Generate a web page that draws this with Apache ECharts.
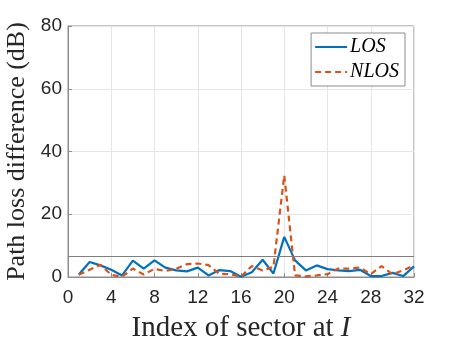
<!DOCTYPE html>
<html>
<head>
<meta charset="utf-8">
<script src="https://cdn.jsdelivr.net/npm/echarts@6/dist/echarts.min.js"></script>
<style>
  html, body { margin: 0; padding: 0; background: #fff; }
  #chart { width: 457px; height: 345px; }
</style>
</head>
<body>
<div id="chart"></div>
<script>
  // sector index 1..32
  var sectors = [];
  for (var i = 1; i <= 32; i++) sectors.push(i);

  var losValues = [0.8, 4.8, 3.7, 2.3, 0.5, 5.2, 2.7, 5.3, 3.0, 2.1,
                   1.8, 3.0, 0.5, 2.2, 1.9, 0.1, 1.5, 5.5, 1.1, 12.8,
                   5.3, 2.1, 3.7, 2.5, 2.1, 1.9, 2.3, 0.3, 0.3, 1.3,
                   0.3, 3.4];
  var nlosValues = [0.7, 2.3, 3.9, 0.7, 0.1, 2.7, 0.8, 2.6, 1.9, 2.6,
                    4.1, 4.3, 3.8, 1.0, 0.9, 0.1, 3.5, 2.1, 3.2, 32.4,
                    0.5, 0.2, 0.5, 0.9, 2.7, 2.7, 3.0, 0.9, 3.5, 0.9,
                    2.1, 3.7];
  var refLine = 6.5;

  var xTicks = [0, 4, 8, 12, 16, 20, 24, 28, 32];
  var yTicks = [0, 20, 40, 60, 80];

  function pairs(vals) {
    var out = [];
    for (var i = 0; i < vals.length; i++) out.push([sectors[i], vals[i]]);
    return out;
  }

  var serif = '"Liberation Serif", "DejaVu Serif", serif';
  var sans = '"Liberation Sans", Arial, sans-serif';

  var option = {
    animation: false,
    backgroundColor: '#fff',
    grid: {
      left: 68, right: 43, top: 26, bottom: 68,
      outerBoundsMode: 'none',
      containLabel: false,
      show: true, borderColor: '#8c8c8c', borderWidth: 1
    },
    legend: {
      right: 52, top: 33,
      orient: 'vertical',
      itemWidth: 32, itemHeight: 14, itemGap: 5,
      padding: [4, 6, 4, 3],
      backgroundColor: '#fff',
      borderColor: '#8c8c8c', borderWidth: 1,
      itemStyle: { opacity: 0 },
      textStyle: { fontFamily: serif, fontStyle: 'italic', fontSize: 20, color: '#000', padding: [0, 0, 0, -2] },
      data: ['LOS', 'NLOS']
    },
    xAxis: {
      type: 'value', min: xTicks[0], max: xTicks[xTicks.length - 1], interval: 4,
      name: '{a|Index of sector at }{b|I}',
      nameLocation: 'middle', nameGap: 37,
      nameTextStyle: {
        rich: {
          a: { fontFamily: serif, fontSize: 29, color: '#262626' },
          b: { fontFamily: serif, fontSize: 29, fontStyle: 'italic', color: '#262626' }
        }
      },
      axisLine: { lineStyle: { color: '#8c8c8c' } },
      axisTick: { inside: true, length: 4, lineStyle: { color: '#8c8c8c' } },
      axisLabel: { fontFamily: sans, fontSize: 19, color: '#262626', margin: 11 },
      splitLine: { show: true, lineStyle: { color: '#e6e6e6' } }
    },
    yAxis: {
      type: 'value', min: yTicks[0], max: yTicks[yTicks.length - 1], interval: 20,
      name: 'Path loss difference (dB)',
      nameLocation: 'middle', nameGap: 35,
      nameTextStyle: { fontFamily: serif, fontSize: 26, color: '#262626' },
      axisLine: { show: true, lineStyle: { color: '#8c8c8c' } },
      axisTick: { show: true, inside: true, length: 4, lineStyle: { color: '#8c8c8c' } },
      axisLabel: { fontFamily: sans, fontSize: 19, color: '#262626', margin: 6 },
      splitLine: { show: true, lineStyle: { color: '#e6e6e6' } }
    },
    series: [
      {
        name: 'LOS', type: 'line', data: pairs(losValues),
        symbol: 'none', color: '#0072BD',
        lineStyle: { width: 2.2, color: '#0072BD' },
        markLine: {
          silent: true, symbol: 'none', label: { show: false },
          lineStyle: { color: '#7f7f7f', width: 1, type: 'solid' },
          data: [{ yAxis: refLine }]
        }
      },
      {
        name: 'NLOS', type: 'line', data: pairs(nlosValues),
        symbol: 'none', color: '#D95319',
        lineStyle: { width: 2.2, color: '#D95319', type: [6, 4] }
      }
    ]
  };

  var myChart = echarts.init(document.getElementById('chart'));
  myChart.setOption(option);
</script>
</body>
</html>
